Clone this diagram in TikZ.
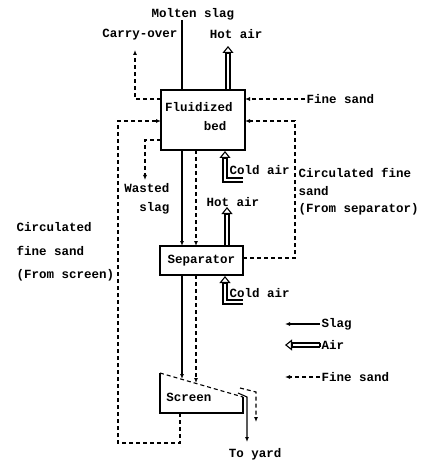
\documentclass[tikz,border=0pt]{standalone}
\usepackage{fontspec}
\setmonofont{Liberation Mono}
\usetikzlibrary{arrows.meta}
\begin{document}
\begin{tikzpicture}[x=1pt, y=-1pt, line width=1.1pt,
  every node/.style={font=\ttfamily\bfseries\fontsize{12.5}{14}\selectfont, inner sep=1pt},
  unit/.style={draw, line width=1.3pt, minimum width=84pt, minimum height=60pt},
  slag/.style={-{Latex[length=5pt,width=4pt]}},
  sand/.style={dash pattern=on 4pt off 3pt, -{Latex[length=5pt,width=4pt]}},
  airline/.style={line width=1.2pt},
  airtip/.style={line width=1.1pt, -{Triangle[fill=white,length=7pt,width=11pt]}}]
  \useasboundingbox (0,0) rectangle (433,462);
  % units
  \node[unit] (fb) at (203,120) {};
  \node at (199,107) {Fluidized};
  \node at (215,126) {bed};
  \node[unit, minimum width=83pt, minimum height=29pt] (sep) at (201.5,260.5) {Separator};
  \draw[line width=1.3pt] (243,397) -- (243,413) -- (160,413) -- (160,373);
  \draw[dash pattern=on 4pt off 3pt] (160,373) -- (243,397);
  \node (scr) at (189,397) {Screen};
  % slag
  \node (ms) at (193,14) {Molten slag};
  \draw (182,20) -- (182,90);
  \draw[slag] (182,150) -- (182,246);
  \draw[slag] (182,275) -- (182,379);
  \draw[slag] (238,393) -- (247,397) -- (247,442);
  \node (yard) at (255,454) {To yard};
  % fine sand
  \draw[sand] (196,150) -- (196,246);
  \draw[sand] (196,275) -- (196,383);
  \draw[sand] (240,388) -- (256,392) -- (256,422);
  \node[anchor=west] (fs) at (305,99) {Fine sand};
  \draw[sand] (fs.west) -- (245,99);
  \node (co) at (140,35) {Carry-over};
  \draw[sand] (161,99) -- (135,99) -- (135,50);
  \draw[sand] (161,140) -- (145,140) -- (145,180);
  \node[align=right, anchor=north east] (ws) at (171,182) {Wasted\\[5pt]slag};
  \draw[sand] (243,258) -- (295,258) -- (295,121) -- (245,121);
  \node[align=left, anchor=north west] (cs1) at (297,167) {Circulated fine\\[4pt]sand\\[3pt](From separator)};
  \draw[sand] (180,413) -- (180,443) -- (118,443) -- (118,121) -- (161,121);
  \node[align=left, anchor=north west] (cs2) at (15,221) {Circulated\\[10pt]fine sand\\[9pt](From screen)};
  % air
  \node (ha1) at (236,34) {Hot air};
  \draw[airline] (226,90) -- (226,52) (230,90) -- (230,52);
  \draw[airtip] (228,54) -- (228,46);
  \node[anchor=west] (ha2) at (205,202) {Hot air};
  \draw[airline] (225,246) -- (225,213) (229,246) -- (229,213);
  \draw[airtip] (227,215) -- (227,207);
  \node[anchor=west] (ca1) at (228,170) {Cold air};
  \draw[airline] (243,182) -- (223,182) -- (223,157) (243,178) -- (227,178) -- (227,157);
  \draw[airtip] (225,159) -- (225,151);
  \node[anchor=west] (ca2) at (228,293) {Cold air};
  \draw[airline] (243,304) -- (223,304) -- (223,282) (243,300) -- (227,300) -- (227,282);
  \draw[airtip] (225,284) -- (225,276);
  % legend
  \node[anchor=west] (lg1) at (320,324) {Slag};
  \draw[slag] (lg1.west) -- (285,324);
  \node[anchor=west] (lg2) at (320,345) {Air};
  \draw[airline] (lg2.west) ++(0,-2) -- (291,343) (lg2.west) ++(0,2) -- (291,347) (lg2.west) ++(0,-2) -- ++(0,4);
  \draw[airtip] (293,345) -- (285,345);
  \node[anchor=west] (lg3) at (320,377) {Fine sand};
  \draw[sand] (lg3.west) -- (285,377);
\end{tikzpicture}
\end{document}
